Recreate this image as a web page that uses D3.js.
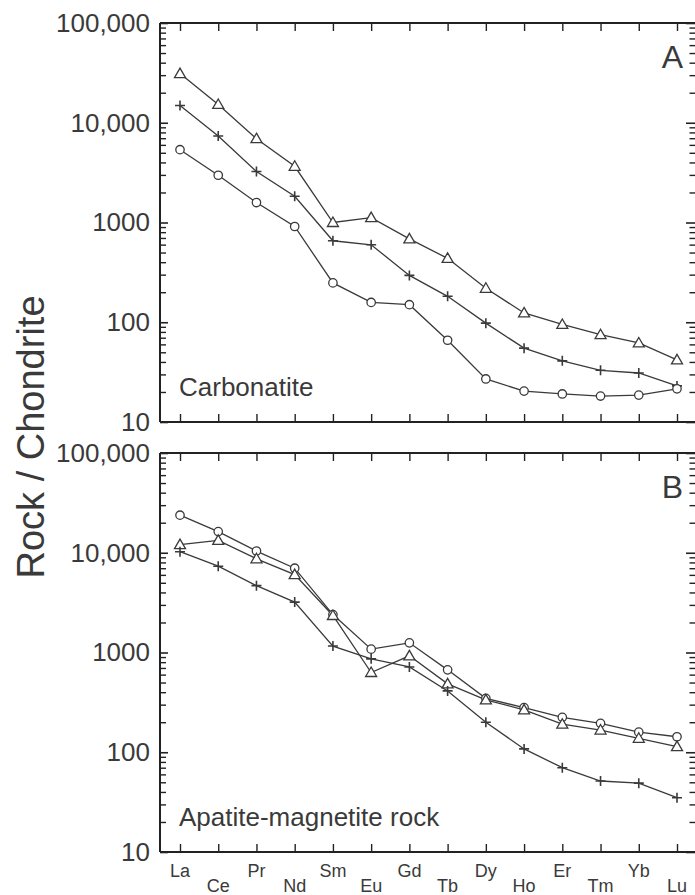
<!DOCTYPE html>
<html>
<head>
<meta charset="utf-8">
<script src="https://cdn.jsdelivr.net/npm/d3@7/dist/d3.min.js"></script>
<style>
  html, body { margin: 0; padding: 0; background: #fff; }
  svg { display: block; }
  text { font-family: "Liberation Sans", Arial, Helvetica, sans-serif; fill: #3a3a3a; }
</style>
</head>
<body>
<svg id="chart" width="695" height="895"></svg>
<script>
// ---- Data ----
const elements = ["La","Ce","Pr","Nd","Sm","Eu","Gd","Tb","Dy","Ho","Er","Tm","Yb","Lu"];
const yTickLabels = [10, 100, 1000, 10000, 100000];

// Panel A: Carbonatite
const carbTriangle = [31100, 15250, 6920, 3660, 1000, 1120, 685, 437, 219, 124, 95, 75, 62, 42];
const carbPlus     = [14900, 7360, 3240, 1830, 656, 598, 295, 182, 98, 55, 41, 33, 31, 23];
const carbCircle   = [5370, 2975, 1585, 912, 248, 158, 150, 66, 27, 20.4, 19.1, 18.2, 18.6, 21.5];

// Panel B: Apatite-magnetite rock
const apmCircle   = [23800, 16300, 10400, 7000, 2400, 1080, 1250, 670, 347, 280, 224, 195, 159, 143];
const apmTriangle = [12050, 13300, 8700, 6040, 2350, 630, 926, 485, 335, 266, 191, 167, 138, 114];
const apmPlus     = [10240, 7330, 4680, 3200, 1160, 864, 716, 412, 200, 108, 70, 51.5, 49, 35];

const panels = [
  { letter: "A", label: "Carbonatite", top: 23, bottom: 422,
    series: [{shape:"triangle", values: carbTriangle}, {shape:"plus", values: carbPlus}, {shape:"circle", values: carbCircle}] },
  { letter: "B", label: "Apatite-magnetite rock", top: 453, bottom: 852,
    series: [{shape:"circle", values: apmCircle}, {shape:"triangle", values: apmTriangle}, {shape:"plus", values: apmPlus}] }
];

// ---- Layout ----
const left = 160, right = 697;
const ink = "#3a3a3a";
const svg = d3.select("#chart");

const x = d3.scalePoint().domain(elements).range([180, 677]);

// minor log ticks
const minorTicks = [];
[10, 100, 1000, 10000].forEach(d => { for (let k = 2; k <= 9; k++) minorTicks.push(d * k); });
const fmt = v => v >= 10000 ? d3.format(",")(v) : String(v);

panels.forEach((p, pi) => {
  const y = d3.scaleLog().domain([10, 100000]).range([p.bottom, p.top]);
  const g = svg.append("g");

  // frame lines
  const fr = g.append("g");
  fr.append("line").attr("x1", left).attr("x2", right).attr("y1", p.top).attr("y2", p.top);
  fr.append("line").attr("x1", left).attr("x2", right).attr("y1", p.bottom).attr("y2", p.bottom);
  fr.append("line").attr("x1", left).attr("x2", left).attr("y1", p.top).attr("y2", p.bottom);
  fr.append("line").attr("x1", right).attr("x2", right).attr("y1", p.top).attr("y2", p.bottom);
  fr.selectAll("line").attr("stroke", "#222").attr("stroke-width", 2);

  // left axis major
  const lMaj = g.append("g").attr("transform", `translate(${left},0)`)
    .call(d3.axisLeft(y).tickValues(yTickLabels).tickFormat(fmt).tickSize(-8).tickPadding(10));
  lMaj.select(".domain").remove();
  lMaj.selectAll(".tick line").attr("stroke", "#222").attr("stroke-width", 1.6);
  lMaj.selectAll(".tick text").attr("font-size", 26).attr("fill", ink)
    .attr("font-family", '"Liberation Sans", Arial, sans-serif');

  const lMin = g.append("g").attr("transform", `translate(${left},0)`)
    .call(d3.axisLeft(y).tickValues(minorTicks).tickFormat("").tickSize(-6));
  lMin.select(".domain").remove();
  lMin.selectAll(".tick line").attr("stroke", "#222").attr("stroke-width", 1.4);

  // right axis
  const rMaj = g.append("g").attr("transform", `translate(${right},0)`)
    .call(d3.axisRight(y).tickValues(yTickLabels).tickFormat("").tickSize(-11));
  rMaj.select(".domain").remove();
  rMaj.selectAll(".tick line").attr("stroke", "#222").attr("stroke-width", 1.6);
  const rMin = g.append("g").attr("transform", `translate(${right},0)`)
    .call(d3.axisRight(y).tickValues(minorTicks).tickFormat("").tickSize(-7.5));
  rMin.select(".domain").remove();
  rMin.selectAll(".tick line").attr("stroke", "#222").attr("stroke-width", 1.4);

  // bottom & top ticks
  const bAx = g.append("g").attr("transform", `translate(0,${p.bottom})`)
    .call(d3.axisBottom(x).tickFormat("").tickSize(-8));
  bAx.select(".domain").remove();
  bAx.selectAll(".tick line").attr("stroke", "#222").attr("stroke-width", 1.4);
  const tAx = g.append("g").attr("transform", `translate(0,${p.top})`)
    .call(d3.axisTop(x).tickFormat("").tickSize(-8));
  tAx.select(".domain").remove();
  tAx.selectAll(".tick line").attr("stroke", "#222").attr("stroke-width", 1.4);

  // x labels only on bottom panel
  if (pi === 1) {
    g.selectAll("text.xl").data(elements).enter().append("text")
      .attr("class", "xl")
      .attr("x", d => x(d))
      .attr("y", (d, i) => i % 2 === 0 ? p.bottom + 25 : p.bottom + 40)
      .attr("text-anchor", "middle")
      .attr("font-size", 18)
      .text(d => d);
  }

  // panel letter & label
  g.append("text").attr("x", 683).attr("y", p.top + 45).attr("text-anchor", "end")
    .attr("font-size", 32).text(p.letter);
  g.append("text").attr("x", 179).attr("y", p.bottom - 26)
    .attr("font-size", 26).text(p.label);

  // series
  const line = d3.line().x((d, i) => x(elements[i])).y(d => y(d));
  p.series.forEach(s => {
    g.append("path").datum(s.values).attr("d", line)
      .attr("fill", "none").attr("stroke", ink).attr("stroke-width", 1.3);
  });
  p.series.forEach(s => {
    const pts = g.selectAll(null).data(s.values).enter().append("g")
      .attr("transform", (d, i) => `translate(${x(elements[i])},${y(d)})`);
    if (s.shape === "circle") {
      pts.append("circle").attr("r", 4.2).attr("fill", "#fff").attr("stroke", ink).attr("stroke-width", 1.3);
    } else if (s.shape === "triangle") {
      pts.append("path").attr("d", "M0,-5.5 L5.5,4 L-5.5,4 Z")
        .attr("fill", "#fff").attr("stroke", ink).attr("stroke-width", 1.3);
    } else {
      pts.append("path").attr("d", "M-5,0 H5 M0,-5 V5")
        .attr("fill", "none").attr("stroke", ink).attr("stroke-width", 1.6);
    }
  });
});

// y axis title
svg.append("text")
  .attr("transform", "translate(44,437) rotate(-90)")
  .attr("text-anchor", "middle")
  .attr("font-size", 38)
  .text("Rock / Chondrite");
</script>
</body>
</html>
